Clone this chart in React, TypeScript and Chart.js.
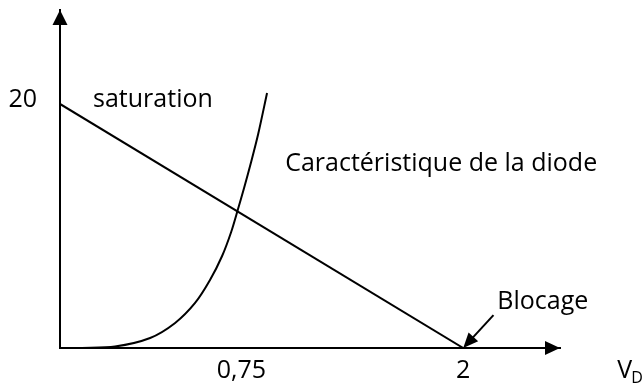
import React, { useEffect, useRef } from "react";
import { Chart, registerables } from "chart.js";

Chart.register(...registerables);

// ---- data (schematic units: x = V_D, y = I_D) ----
const loadLineX = [0, 2];
const loadLineY = [20, 0];

const diodeX = [0.099, 0.273, 0.447, 0.571, 0.67, 0.744, 0.804, 0.849, 0.883, 0.913, 0.948, 0.983, 1.027];
const diodeY = [0, 0.12, 0.82, 2.05, 3.69, 5.57, 7.54, 9.51, 11.39, 13.11, 15.25, 17.54, 20.9];

const xTickValues = [0.9, 2];
const xTickLabels = ["0,75", "2"];
const yTickValues = [20];
const yTickLabels = ["20"];

const X_MAX = 2.48;
const Y_MAX = 27.7;

const noteTexts = ["saturation", "Caractéristique de la diode", "Blocage"];
const noteX = [0.164, 1.117, 2.169];
const noteY = [20.3, 15.1, 3.77];

const blocageArrowFrom = { x: 2.15, y: 2.7 };
const blocageArrowTo = { x: 2, y: 0 };

const axisLabelMain = "V";
const axisLabelSub = "D";
const axisLabelX = 2.764;
const axisLabelY = -1.9;

const FONT = "'Open Sans', Lato, sans-serif";
const FONT_SIZE = 25;
const FONT_WEIGHT = 500;

function fillArrowHead(
  ctx: CanvasRenderingContext2D,
  tipX: number,
  tipY: number,
  angle: number,
  len: number,
  half: number
) {
  ctx.save();
  ctx.translate(tipX, tipY);
  ctx.rotate(angle);
  ctx.beginPath();
  ctx.moveTo(0, 0);
  ctx.lineTo(-len, -half);
  ctx.lineTo(-len, half);
  ctx.closePath();
  ctx.fill();
  ctx.restore();
}

const schematicPlugin = {
  id: "schematic",
  afterDraw(chart: any) {
    const { ctx, chartArea, scales } = chart;
    const xs = scales.x;
    const ys = scales.y;
    ctx.save();
    ctx.fillStyle = "#000";
    ctx.strokeStyle = "#000";

    // axis arrowheads
    fillArrowHead(ctx, chartArea.left, chartArea.top, -Math.PI / 2, 15, 7.5);
    fillArrowHead(ctx, chartArea.right, chartArea.bottom, 0, 15, 7);

    // notes
    ctx.font = `${FONT_WEIGHT} ${FONT_SIZE}px ${FONT}`;
    ctx.textAlign = "left";
    ctx.textBaseline = "middle";
    noteTexts.forEach((t, i) => {
      ctx.fillText(t, xs.getPixelForValue(noteX[i]), ys.getPixelForValue(noteY[i]));
    });

    // blocage arrow
    const fx = xs.getPixelForValue(blocageArrowFrom.x);
    const fy = ys.getPixelForValue(blocageArrowFrom.y);
    const tx = xs.getPixelForValue(blocageArrowTo.x);
    const ty = ys.getPixelForValue(blocageArrowTo.y);
    const ang = Math.atan2(ty - fy, tx - fx);
    ctx.lineWidth = 2;
    ctx.beginPath();
    ctx.moveTo(fx, fy);
    ctx.lineTo(tx - Math.cos(ang) * 10, ty - Math.sin(ang) * 10);
    ctx.stroke();
    fillArrowHead(ctx, tx, ty, ang, 15, 6.5);

    // V_D label
    const vx = xs.getPixelForValue(axisLabelX);
    const vy = ys.getPixelForValue(axisLabelY);
    ctx.font = `${FONT_WEIGHT} ${FONT_SIZE}px ${FONT}`;
    ctx.fillText(axisLabelMain, vx, vy);
    const vw = ctx.measureText(axisLabelMain).width;
    ctx.font = `${FONT_WEIGHT} ${Math.round(FONT_SIZE * 0.65)}px ${FONT}`;
    ctx.fillText(axisLabelSub, vx + vw - 1, vy + 7);

    ctx.restore();
  },
};

export default function App() {
  const canvasRef = useRef<HTMLCanvasElement | null>(null);

  useEffect(() => {
    document.body.style.margin = "0";
    const canvas = canvasRef.current;
    if (!canvas) return;
    const chart = new Chart(canvas, {
      type: "scatter",
      data: {
        datasets: [
          {
            label: "Droite de charge",
            data: loadLineX.map((x, i) => ({ x, y: loadLineY[i] })),
            showLine: true,
            borderColor: "#000",
            borderWidth: 2,
            pointRadius: 0,
          },
          {
            label: "Caractéristique de la diode",
            data: diodeX.map((x, i) => ({ x, y: diodeY[i] })),
            showLine: true,
            borderColor: "#000",
            borderWidth: 2,
            pointRadius: 0,
            tension: 0.3,
          },
        ],
      },
      options: {
        animation: false,
        responsive: false,
        maintainAspectRatio: false,
        layout: { padding: { top: 10, right: 83, left: 0, bottom: 0 } },
        plugins: {
          legend: { display: false },
          tooltip: { enabled: false },
        },
        scales: {
          x: {
            type: "linear",
            min: 0,
            max: X_MAX,
            grid: { display: false, drawTicks: false },
            border: { display: true, color: "#000", width: 2 },
            afterBuildTicks: (scale: any) => {
              scale.ticks = xTickValues.map((v) => ({ value: v }));
            },
            afterFit: (scale: any) => {
              scale.height = 37;
              scale.paddingLeft = 0;
              scale.paddingRight = 0;
            },
            ticks: {
              color: "#000",
              font: { family: FONT, size: FONT_SIZE, weight: FONT_WEIGHT },
              padding: 8,
              maxRotation: 0,
              autoSkip: false,
              callback: (v: any) => {
                const i = xTickValues.indexOf(Number(v));
                return i >= 0 ? xTickLabels[i] : "";
              },
            },
          },
          y: {
            type: "linear",
            min: 0,
            max: Y_MAX,
            grid: { display: false, drawTicks: false },
            border: { display: true, color: "#000", width: 2 },
            afterBuildTicks: (scale: any) => {
              scale.ticks = yTickValues.map((v) => ({ value: v }));
            },
            afterFit: (scale: any) => {
              scale.width = 60;
              scale.paddingTop = 0;
              scale.paddingBottom = 0;
            },
            ticks: {
              color: "#000",
              font: { family: FONT, size: FONT_SIZE, weight: FONT_WEIGHT },
              padding: 23,
              labelOffset: -4,
              autoSkip: false,
              callback: (v: any) => {
                const i = yTickValues.indexOf(Number(v));
                return i >= 0 ? yTickLabels[i] : "";
              },
            },
          },
        },
      },
      plugins: [schematicPlugin],
    });
    return () => chart.destroy();
  }, []);

  return (
    <div style={{ position: "fixed", left: 0, top: 0, width: 643, height: 385, background: "#fff" }}>
      <canvas ref={canvasRef} width={643} height={385} style={{ display: "block", width: 643, height: 385 }} />
    </div>
  );
}
